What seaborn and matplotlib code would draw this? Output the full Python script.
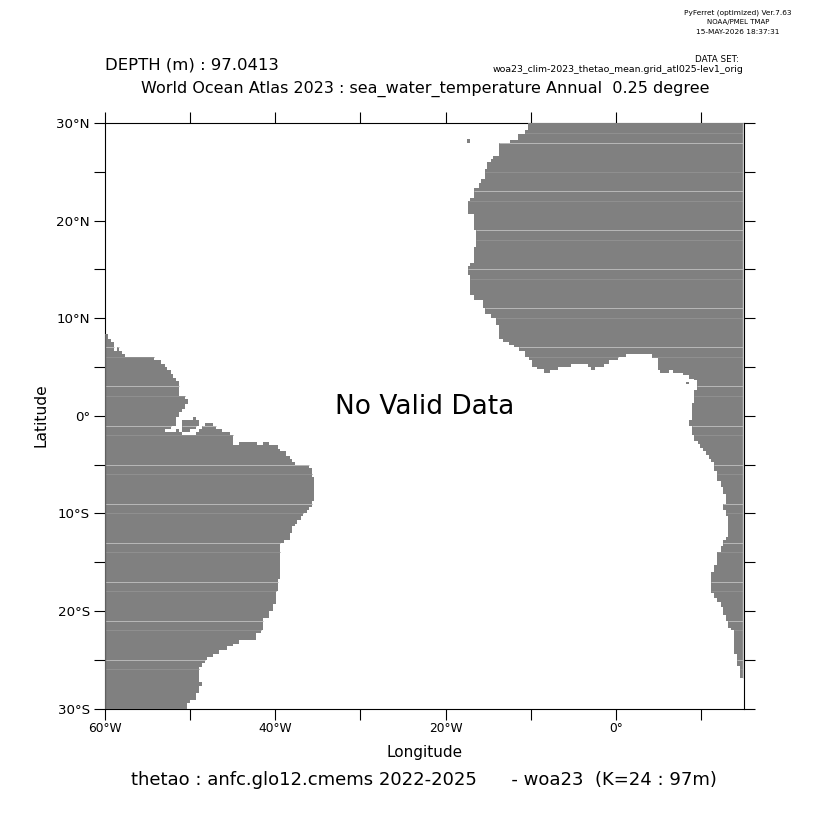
import numpy as np
import pandas as pd
import matplotlib
matplotlib.use("Agg")
import matplotlib.pyplot as plt
from matplotlib.colors import ListedColormap
import seaborn as sns

# Africa: western land edge by latitude (lat at top of step, lon of edge)
africa_west_lat = [30.0,29.28,28.94,28.32,27.98,26.62,26.31,26.03,25.25,24.32,23.88,23.30,22.27,22.0,20.67,19.03,17.32,15.68,15.33,14.41,12.43,11.85,10.99,10.41,9.97,9.28,7.91,7.57,7.23,6.99,6.55,6.03,5.69,5.0,4.84,4.39,4.15,3.8,3.71,2.62,1.25,-0.39,-0.97,-1.98,-2.61,-2.92,-3.26,-3.6,-4.05,-4.39,-4.66,-5.69,-6.71,-7.3,-8.05,-9.0,-9.69,-10.27,-12.36,-12.66,-13.28,-13.96,-15.33,-16.01,-18.24,-18.75,-19.09,-19.6,-20.36,-20.97,-21.66,-22.0,-24.39,-25.59,-26.95]
africa_west_lon = [-10.34,-10.73,-11.52,-12.38,-13.67,-14.37,-14.72,-15.08,-15.43,-15.78,-16.13,-16.72,-17.07,-17.42,-16.72,-16.37,-16.72,-17.07,-17.42,-17.07,-16.72,-15.62,-15.43,-14.72,-14.06,-13.67,-13.28,-12.5,-11.91,-11.4,-10.73,-10.15,-9.76,-9.17,-8.58,7.92,8.62,9.2,9.52,9.2,8.97,8.62,8.97,9.2,9.56,9.91,10.26,10.61,10.97,11.2,11.55,11.9,12.26,12.6,12.96,12.6,12.96,13.2,12.96,12.6,12.26,11.9,11.55,11.2,11.55,11.9,12.26,12.6,12.96,13.2,13.55,13.9,14.25,14.6,15.0]
# Africa: southern land edge along the Gulf of Guinea (lon at start of step, lat of edge)
guinea_lon = [-8.39,-7.69,-6.79,-5.34,-3.31,-2.88,-2.41,-1.35,-0.77,0.33,1.19,4.24,4.9,5.22,6.27,6.66,7.92]
guinea_lat = [4.39,4.67,5.01,5.28,5.01,4.67,5.01,5.28,5.69,6.03,6.31,5.86,4.73,4.39,4.73,4.39,-90.0]

# South America: eastern land edge by latitude
brazil_east_lat = [8.35,7.94,7.64,6.64,6.3,6.0,5.69,5.28,4.97,4.66,4.32,3.94,3.64,2.0,1.69,1.24,0.73,0.39,-0.06,-1.01,-1.36,-1.66,-2.0,-2.72,-3.03,-3.37,-3.65,-4.06,-4.36,-4.67,-5.0,-5.39,-6.28,-8.67,-9.29,-9.69,-9.96,-10.31,-10.72,-11.06,-11.33,-12.0,-12.66,-13.0,-16.7,-18.0,-19.33,-20.05,-20.66,-22.0,-22.3,-23.02,-23.37,-23.64,-24.05,-24.39,-24.73,-25.0,-25.35,-25.69,-27.33,-27.74,-28.36,-29.07,-29.38]
brazil_east_lon = [-59.65,-59.3,-58.94,-58.0,-57.65,-54.33,-53.35,-53.0,-52.65,-52.3,-52.02,-51.67,-51.32,-50.62,-50.3,-50.62,-50.97,-51.32,-51.67,-52.3,-52.96,-50.97,-44.98,-44.98,-39.71,-39.36,-38.65,-38.3,-37.95,-37.71,-35.95,-35.72,-35.37,-35.72,-35.95,-36.31,-36.66,-37.01,-37.36,-37.71,-37.95,-38.3,-38.97,-39.36,-39.71,-39.94,-40.3,-40.65,-41.35,-41.7,-42.29,-44.28,-44.98,-45.69,-46.63,-47.33,-48.04,-48.27,-48.62,-48.97,-48.62,-48.97,-49.33,-50.03,-50.38]
# Islands and small coastal pieces: lat top, lat bottom, lon west, lon east
patch_lat_top = [-0.06,-0.36,-0.98,-1.36,-0.67,-0.98,-1.36,-1.36,-2.72,-2.72,6.99,3.52,28.37]
patch_lat_bot = [-0.36,-0.98,-1.36,-1.66,-0.98,-1.36,-1.66,-1.66,-3.03,-3.03,6.64,3.3,28.02]
patch_lon_w = [-49.68,-50.97,-50.97,-50.97,-48.27,-48.62,-48.97,-51.67,-44.28,-41.35,-58.59,8.3,-17.45]
patch_lon_e = [-49.33,-48.97,-49.33,-50.03,-47.33,-46.98,-46.28,-51.32,-42.05,-40.65,-58.36,8.6,-17.1]
east_strip_lat_top = [-1.66]
east_strip_lat_bot = [-2.0]
east_strip_lon_w = [-49.33]
east_strip_lon_e = [-45.34]

# Thin seams in the land fill
seam_bright = [28,23,19,15,11,7,3,-1,-5,-9,-13,-17,-21,-25]
seam_faint = [29,25,22,18,14,10,6,2,-2,-6,-10,-14,-18,-22,-26]

lon_ticks = [-60,-50,-40,-30,-20,-10,0,10]
lon_labels = ["60°W","","40°W","","20°W","","0°",""]
lat_ticks = [30,25,20,15,10,5,0,-5,-10,-15,-20,-25,-30]
lat_labels = ["30°N","","20°N","","10°N","","0°","","10°S","","20°S","","30°S"]

LON0, LON1, LAT0, LAT1, RES = -60.0, 15.0, -30.0, 30.0, 0.1
W, H = 832, 832

lons = np.arange(LON0 + RES/2, LON1, RES)
lats = np.arange(LAT1 - RES/2, LAT0, -RES)
LON, LAT = np.meshgrid(lons, lats)


def step_lookup(q, tops, vals, default):
    """Value of the step whose top latitude is the first >= q."""
    tops = np.asarray(tops)
    vals = np.asarray(vals)
    idx = np.searchsorted(-tops, -q, side="right") - 1
    out = np.where(idx >= 0, vals[np.clip(idx, 0, None)], default)
    return out


land = np.zeros(LON.shape, bool)
af_w = step_lookup(LAT, africa_west_lat, africa_west_lon, 99.0)
g_idx = np.searchsorted(guinea_lon, LON, side="right") - 1
g_bot = np.where(g_idx >= 0, np.asarray(guinea_lat)[np.clip(g_idx, 0, None)], 4.84)
land |= (LON >= af_w) & (LAT >= g_bot)
br_e = step_lookup(LAT, brazil_east_lat, brazil_east_lon, -99.0)
land |= LON <= br_e
land[(LAT < -2.72) & (LAT > -3.03) & (LON > -44.98) & (LON < -39.71)] = False
land[(LAT < -2.72) & (LAT > -3.03) & (LON <= -44.98)] = True
for t, b, w, e in zip(patch_lat_top + east_strip_lat_top, patch_lat_bot + east_strip_lat_bot,
                      patch_lon_w + east_strip_lon_w, patch_lon_e + east_strip_lon_e):
    land[(LAT <= t) & (LAT > b) & (LON >= w) & (LON <= e)] = True

df = pd.DataFrame(np.where(land, 1.0, 0.0), index=lats, columns=lons)

sns.set_theme(style="ticks", rc={"font.family": "DejaVu Sans"})
fig = plt.figure(figsize=(W/100, H/100), dpi=100, facecolor="white")
ax = fig.add_axes([105/W, 1-708.5/H, (743.5-105)/W, (708.5-123)/H])

sns.heatmap(df, mask=~land, cmap=ListedColormap(["#808080"]), cbar=False,
            xticklabels=False, yticklabels=False, ax=ax, rasterized=True)


def xpos(lon):
    return (np.asarray(lon) - LON0) / RES


def ypos(lat):
    return (LAT1 - np.asarray(lat)) / RES


def runs(b):
    d = np.diff(np.r_[0, b.astype(int), 0])
    return zip(np.where(d == 1)[0], np.where(d == -1)[0])


for seams, col in ((seam_bright, "#b6b6b6"), (seam_faint, "#8f8f8f")):
    for s in seams:
        r = int(ypos(s))
        for a, b in runs(land[r]):
            ax.hlines(ypos(s), a, b, color=col, lw=0.72, zorder=3)
for a, b in runs(land[:, 0]):
    ax.vlines(0.3, a, b, color="#606060", lw=1.0, zorder=3)
for a, b in runs(land[:, -1]):
    ax.vlines(land.shape[1]-0.3, a, b, color="#c6c6c6", lw=1.0, zorder=3)

for sp in ax.spines.values():
    sp.set_visible(True)
    sp.set_linewidth(0.8)
    sp.set_color("black")
    sp.set_zorder(0.5)

ax.set_xticks(xpos(lon_ticks))
ax.set_xticklabels(lon_labels)
ax.set_yticks(ypos(lat_ticks))
ax.set_yticklabels(lat_labels, rotation=0)
ax.tick_params(axis="both", direction="out", length=7.9, width=0.8, color="black",
               labelcolor="black", top=True, right=True, bottom=True, left=True,
               labeltop=False, labelright=False)
ax.tick_params(axis="x", pad=2, labelsize=8.8)
ax.tick_params(axis="y", pad=3, labelsize=9.6)
ax.set_xlabel("")
ax.set_ylabel("")


def T(x, y, s, size, ha="center", **kw):
    fig.text(x/W, 1-y/H, s, fontsize=size, ha=ha, va="center", color="black", **kw)


T(738, 13, "PyFerret (optimized) Ver.7.63", 5.35)
T(738, 22, "NOAA/PMEL TMAP", 5.0)
T(738, 32, "15-MAY-2026 18:37:31", 5.35)
T(739, 59.5, "DATA SET:", 6.3, ha="right")
T(743, 69.5, "woa23_clim-2023_thetao_mean.grid_atl025-lev1_orig", 6.73, ha="right")
T(105, 65, "DEPTH (m) : 97.0413", 11.85, ha="left")
T(425, 89, "World Ocean Atlas 2023 : sea_water_temperature Annual  0.25 degree", 11.5)
T(424.5, 407, "No Valid Data", 19)
T(41, 415, "Latitude", 11.2, rotation=90)
T(424.5, 752, "Longitude", 11)
T(424, 780, "thetao : anfc.glo12.cmems 2022-2025      - woa23  (K=24 : 97m)", 13.0)

fig.savefig("out.png", dpi=100, facecolor="white")
